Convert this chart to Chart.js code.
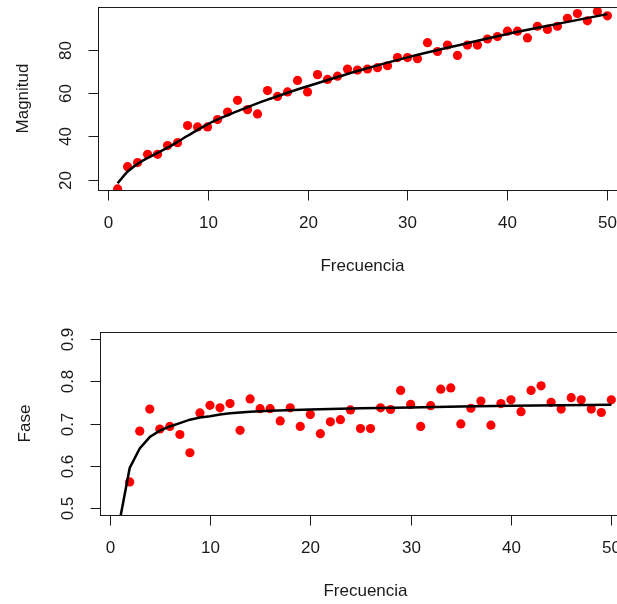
<!DOCTYPE html>
<html>
<head>
<meta charset="utf-8">
<script src="https://cdn.jsdelivr.net/npm/chart.js@4.4.1/dist/chart.umd.min.js"></script>
<style>
  html, body { margin: 0; padding: 0; background: #fff; overflow: hidden; width: 617px; height: 604px; }
  canvas { position: absolute; left: 0; }
  #magChart { top: 0; }
  #faseChart { top: 300px; }
</style>
</head>
<body>
<canvas id="magChart" width="660" height="300"></canvas>
<canvas id="faseChart" width="660" height="304"></canvas>
<script>
// frecuencias medidas
const frecuencia = [1, 2, 3, 4, 5, 6, 7, 8, 9, 10, 11, 12, 13, 14, 15, 16, 17, 18, 19, 20,
  21, 22, 23, 24, 25, 26, 27, 28, 29, 30, 31, 32, 33, 34, 35, 36, 37, 38, 39, 40,
  41, 42, 43, 44, 45, 46, 47, 48, 49, 50];

const magnitud = [15.7, 26.0, 27.9, 31.7, 31.7, 35.8, 37.1, 45.0, 44.4, 44.4,
  47.8, 51.3, 56.7, 52.4, 50.4, 61.2, 58.5, 60.6, 65.9, 60.6,
  68.6, 66.4, 67.9, 71.2, 70.7, 71.2, 71.8, 72.7, 76.5, 76.5,
  76.0, 83.4, 79.3, 82.3, 77.5, 82.3, 82.3, 85.1, 86.2, 88.7,
  88.7, 85.6, 91.0, 89.5, 91.0, 94.7, 96.9, 93.5, 97.8, 95.8];

const fase = [0.43, 0.562, 0.682, 0.734, 0.687, 0.693, 0.674, 0.631, 0.725, 0.743,
  0.737, 0.747, 0.684, 0.758, 0.735, 0.735, 0.706, 0.737, 0.693, 0.721,
  0.676, 0.704, 0.709, 0.732, 0.688, 0.688, 0.737, 0.733, 0.778, 0.745,
  0.693, 0.742, 0.781, 0.784, 0.699, 0.736, 0.753, 0.696, 0.747, 0.756,
  0.728, 0.778, 0.789, 0.750, 0.734, 0.761, 0.756, 0.734, 0.726, 0.756];

// curvas ajustadas
const magAjusteFreq = [1, 2, 3, 4, 5, 6, 7, 8, 10, 12, 14, 16, 18, 20, 25, 30, 35, 40, 45, 50];
const magAjuste = [18.3, 23.7, 27.3, 30.0, 32.4, 34.8, 37.5, 40.3, 45.6, 49.8,
  53.5, 57.0, 60.2, 63.2, 70.3, 76.6, 82.1, 87.4, 92.1, 96.6];

const faseAjusteFreq = [1, 2, 3, 4, 5, 6, 7, 8, 9, 10, 11, 12, 14, 16, 20, 25, 30, 35, 40, 45, 50];
const faseAjuste = [0.47, 0.595, 0.641, 0.668, 0.683, 0.693, 0.701, 0.709, 0.714, 0.717,
  0.721, 0.724, 0.728, 0.730, 0.733, 0.736, 0.738, 0.740, 0.742, 0.743, 0.744];

// ticks
const xTicks = [0, 10, 20, 30, 40, 50];
const magTicks = [20, 40, 60, 80];
const faseTicks = [0.5, 0.6, 0.7, 0.8, 0.9];
const faseTickLabels = ['0.5', '0.6', '0.7', '0.8', '0.9'];

const FONT = '17px "Liberation Sans", Arial, sans-serif';
const INK = '#1a1a1a';

const pares = (xs, ys) => xs.map((x, i) => ({ x: x, y: ys[i] }));

// ejes al estilo de R base: caja, marcas hacia fuera, rótulos girados en y
const ejesR = {
  id: 'ejesR',
  afterDatasetsDraw(chart, args, opts) {
    const ctx = chart.ctx;
    const a = chart.chartArea;
    const sx = chart.scales.x, sy = chart.scales.y;
    ctx.save();
    ctx.strokeStyle = INK;
    ctx.lineWidth = 1;
    ctx.strokeRect(Math.round(a.left) + 0.5, Math.round(a.top) + 0.5,
      Math.round(a.right - a.left), Math.round(a.bottom - a.top));

    ctx.fillStyle = INK;
    ctx.font = FONT;
    ctx.textAlign = 'center';
    ctx.textBaseline = 'middle';
    const bottom = Math.round(a.bottom) + 0.5;
    const left = Math.round(a.left) + 0.5;

    opts.xTicks.forEach(v => {
      const px = Math.round(sx.getPixelForValue(v)) + 0.5;
      ctx.beginPath();
      ctx.moveTo(px, bottom);
      ctx.lineTo(px, bottom + 10);
      ctx.stroke();
      ctx.fillText(String(v), px, a.bottom + 33);
    });

    opts.yTicks.forEach((v, i) => {
      const py = Math.round(sy.getPixelForValue(v)) + 0.5;
      ctx.beginPath();
      ctx.moveTo(left - 10, py);
      ctx.lineTo(left, py);
      ctx.stroke();
      ctx.save();
      ctx.translate(a.left - 32, py);
      ctx.rotate(-Math.PI / 2);
      ctx.fillText(opts.yLabels[i], 0, 0);
      ctx.restore();
    });

    ctx.fillText(opts.xTitle, (a.left + a.right) / 2, a.bottom + 76);
    ctx.save();
    ctx.translate(a.left - 75, (a.top + a.bottom) / 2);
    ctx.rotate(-Math.PI / 2);
    ctx.fillText(opts.yTitle, 0, 0);
    ctx.restore();
    ctx.restore();
  }
};

function panel(id, puntos, ajuste, yMin, yMax, padding, ejes, curva) {
  return new Chart(document.getElementById(id), {
    type: 'scatter',
    data: {
      datasets: [
        {
          type: 'line',
          data: ajuste,
          borderColor: '#000',
          borderWidth: 2.5,
          pointRadius: 0,
          fill: false,
          cubicInterpolationMode: curva ? 'monotone' : 'default',
          tension: 0
        },
        {
          data: puntos,
          backgroundColor: '#ff0000',
          borderWidth: 0,
          pointRadius: 4.6,
          pointHoverRadius: 4.6
        }
      ]
    },
    options: {
      responsive: false,
      animation: false,
      devicePixelRatio: 1,
      layout: { padding: padding },
      plugins: {
        legend: { display: false },
        tooltip: { enabled: false },
        ejesR: ejes
      },
      scales: {
        x: { type: 'linear', min: -0.96, max: 51.96, display: false },
        y: { type: 'linear', min: yMin, max: yMax, display: false }
      }
    },
    plugins: [ejesR]
  });
}

panel('magChart', pares(frecuencia, magnitud), pares(magAjusteFreq, magAjuste),
  15.2, 99.9, { left: 98, top: 7, right: 33, bottom: 110 },
  { xTicks: xTicks, yTicks: magTicks, yLabels: magTicks.map(String), xTitle: 'Frecuencia', yTitle: 'Magnitud' },
  true);

panel('faseChart', pares(frecuencia, fase), pares(faseAjusteFreq, faseAjuste),
  0.484, 0.916, { left: 100, top: 32, right: 29, bottom: 89 },
  { xTicks: xTicks, yTicks: faseTicks, yLabels: faseTickLabels, xTitle: 'Frecuencia', yTitle: 'Fase' },
  false);
</script>
</body>
</html>
